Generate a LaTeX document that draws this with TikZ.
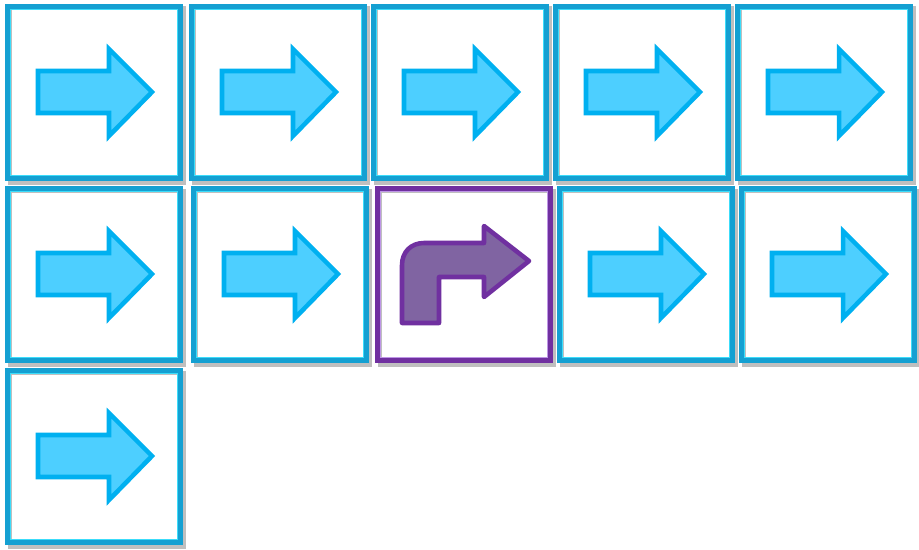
\documentclass[tikz,border=0pt]{standalone}
\usepackage{xcolor}

\definecolor{tileout}{RGB}{20,160,210}
\definecolor{tilein}{RGB}{60,220,250}
\definecolor{arrowfill}{RGB}{77,207,255}
\definecolor{arrowline}{RGB}{0,176,240}
\definecolor{turnfill}{RGB}{128,100,162}
\definecolor{turnline}{RGB}{112,48,160}
\definecolor{turnin}{RGB}{190,150,230}

\tikzset{
	tileshadow/.style={draw=black!25, line width=3pt},
	tileframe/.style={draw=tileout, line width=3.4pt},
	tileglow/.style={draw=tilein, line width=1.3pt},
	goarrow/.style={fill=arrowfill, draw=arrowline, line width=3.4pt, line join=miter},
	turnarrow/.style={fill=turnfill, draw=turnline, line width=3.4pt, line join=round}
}

\begin{document}
\begin{tikzpicture}[x=0.75pt,y=0.75pt,yscale=-1,xscale=1]

	\useasboundingbox (0,0) rectangle (919,549);

	% blue tiles with straight arrows
	\foreach \bx/\by in {5/4, 189/4, 371/4, 553/4, 735/4, 5/186, 191/186, 557/186, 739/186, 5/368}
	{
		\draw [tileshadow]  (\bx+4.5,\by+4.5) rectangle (\bx+179,\by+179) ;
		\draw [tileframe]   (\bx+2.5,\by+2.5) rectangle (\bx+175.5,\by+174.5) ;
		\draw [tileglow]    (\bx+5.5,\by+5.5) rectangle (\bx+172.5,\by+171.5) ;
		\fill [white]       (\bx+6.5,\by+6.5) rectangle (\bx+171.5,\by+170.5) ;
		\draw [goarrow] (\bx+33,\by+67) -- (\bx+104,\by+67) -- (\bx+104,\by+45) -- (\bx+147,\by+88) -- (\bx+104,\by+132) -- (\bx+104,\by+109) -- (\bx+33,\by+109) -- cycle ;
	}

	% purple tile with the turn
	\draw [tileshadow]  (379.5,190.5) rectangle (554,365) ;
	\draw [tileframe, draw=turnline]  (377.5,188.5) rectangle (550.5,360.5) ;
	\draw [tileglow, draw=turnin]     (380.5,191.5) rectangle (547.5,357.5) ;
	\fill [white]       (381.5,192.5) rectangle (546.5,356.5) ;
	\draw [turnarrow] (402,323) -- (402,265) .. controls (402,252) and (411,243) .. (424,243) -- (484,243) -- (484,226) -- (529,261) -- (484,297) -- (484,277) -- (439,277) -- (439,323) -- cycle ;

\end{tikzpicture}
\end{document}
